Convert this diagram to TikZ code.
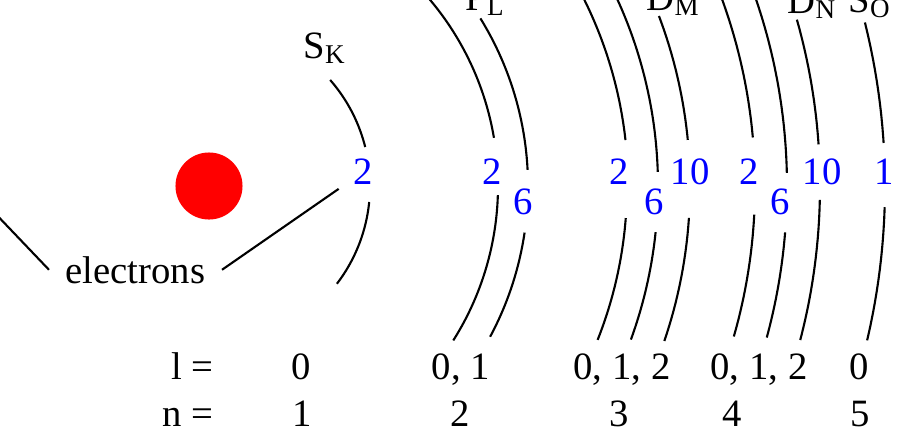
\documentclass[tikz,border=0pt]{standalone}
\usepackage{fontspec}
\setmainfont{Liberation Serif}
\definecolor{occblue}{RGB}{0,0,255}
\tikzset{
  shell/.style={line width=0.6pt},
  occ/.style={text=occblue, inner sep=0pt},
  lbl/.style={inner sep=0pt, anchor=base west},
  val/.style={inner sep=0pt, anchor=base},
}
% piece of a shell circle round the nucleus: start angle, end angle, radius
\newcommand{\shellarc}[3]{\draw[shell, shift={(nuc.center)}] plot[domain=#1:#2, samples=30, smooth] (\x:#3);}
\begin{document}
\begin{tikzpicture}[x=0.01cm, y=-0.01cm, font=\fontsize{11}{13}\selectfont]
\useasboundingbox (0,0) rectangle (903,433);
\clip (0,0) rectangle (903,433);
% nucleus
\node[circle, fill=red, inner sep=0pt, minimum size=0.67cm] (nuc) at (209,186) {};
% occupation numbers
\node[occ] (k2) at (363,172) {2};
\node[occ] (l2) at (492,172) {2};
\node[occ] (l6) at (523,202) {6};
\node[occ] (m2) at (619,172) {2};
\node[occ] (m6) at (654,202) {6};
\node[occ] (m10) at (690,172) {10};
\node[occ] (n2) at (749,172) {2};
\node[occ] (n6) at (780,202) {6};
\node[occ] (n10) at (822,172) {10};
\node[occ] (o1) at (884,172) {1};
% shell names
\node[lbl] (sk) at (303,58) {$\mathrm{S}_\mathrm{K}$};
\node[lbl] (pl) at (465,10) {$\mathrm{P}_\mathrm{L}$};
\node[lbl] (dm) at (646,10) {$\mathrm{D}_\mathrm{M}$};
\node[lbl] (dn) at (787,13) {$\mathrm{D}_\mathrm{N}$};
\node[lbl] (so) at (848,12) {$\mathrm{S}_\mathrm{O}$};
% K shell
\shellarc{-41.2}{-14}{161}
\shellarc{5.7}{37.4}{161}
% L shell
\shellarc{-45}{-9.6}{289}
\shellarc{1.8}{32.3}{289}
\shellarc{-31.7}{-2.9}{319}
\shellarc{8.4}{28.2}{319}
% M shell
\shellarc{-30}{-6.3}{419}
\shellarc{4.4}{21.6}{418}
\shellarc{-28}{-1.8}{449}
\shellarc{5.9}{20}{449}
\shellarc{-20.7}{-5.5}{481}
\shellarc{3.8}{18.8}{481}
% N shell
\shellarc{-23}{-5.1}{546}
\shellarc{3.0}{16.0}{546}
\shellarc{-21}{-1.3}{578}
\shellarc{4.6}{15.2}{578}
\shellarc{-15.8}{-3.9}{611}
\shellarc{1.3}{14.6}{611}
% O shell
\shellarc{-14}{-3.65}{676}
\shellarc{1.8}{13.2}{676}
% electrons label
\node[inner ysep=0pt, inner xsep=0.16cm, anchor=base] (elec) at (135.5,283) {electrons};
\coordinate (eleft) at (-30,187);
\draw[shell] (elec.west) -- (eleft);
\draw[shell, shorten >=0.17cm] (elec.east) -- (k2);
% quantum numbers
\node[inner sep=0pt, anchor=base east] (lrow) at (214,379) {l =};
\node[inner sep=0pt, anchor=base east] (nrow) at (214,426) {n =};
\node[val] (lk) at (301,379) {0};
\node[val] (nk) at (302,426) {1};
\node[val] (ll) at (461,379) {0, 1};
\node[val] (nl) at (460,426) {2};
\node[val] (lm) at (622,379) {0, 1, 2};
\node[val] (nm) at (619,426) {3};
\node[val] (ln) at (759,379) {0, 1, 2};
\node[val] (nn) at (732,426) {4};
\node[val] (lo) at (859,379) {0};
\node[val] (no) at (860,426) {5};
\end{tikzpicture}
\end{document}
